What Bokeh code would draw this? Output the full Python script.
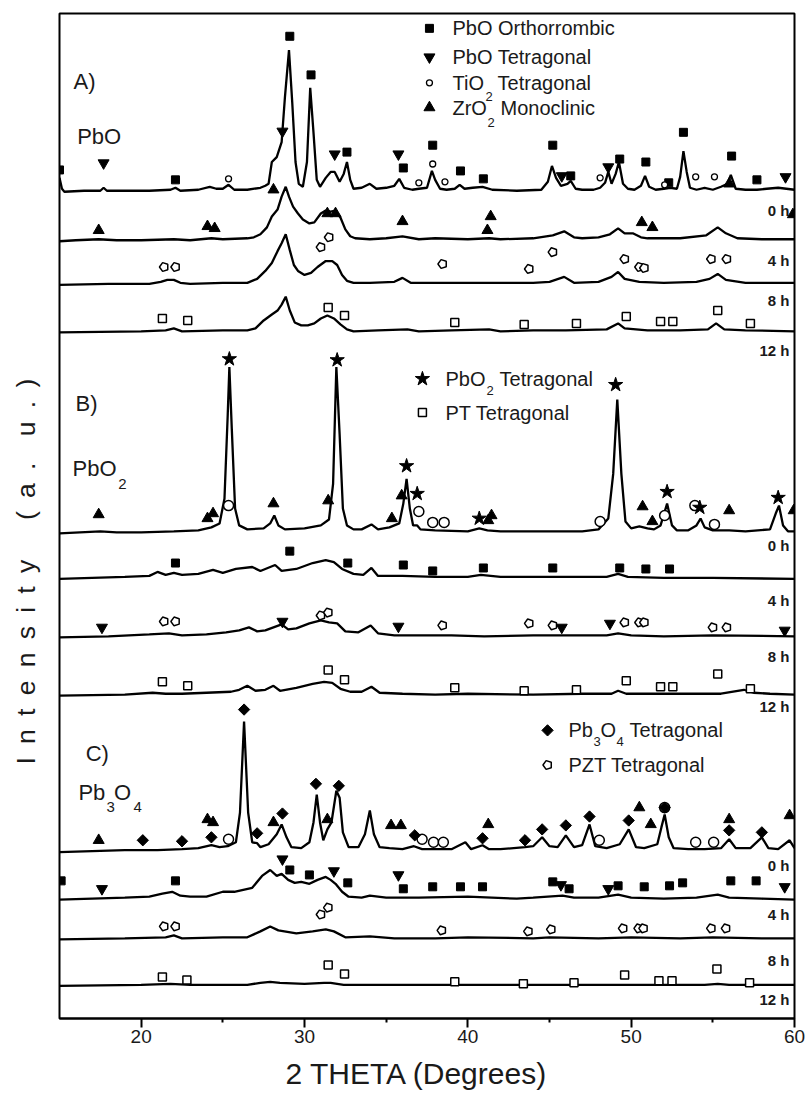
import math
from bokeh.plotting import figure
from bokeh.models import Range1d, FixedTicker, Title
from bokeh.core.properties import value
from bokeh.embed import file_html
from bokeh.resources import INLINE

FONT = "Liberation Sans"

# ---------------- data: (2theta, intensity a.u. above each pattern's baseline) ----------------
a0 = [(15.0,14),(15.15,3),(15.3,0),(16.5,1),(17.5,1),(17.7,4),(17.9,1),(19.0,1),(20.5,1),(21.8,2),(22.1,4),(22.4,1),
      (23.5,2),(24.2,5),(24.6,3),(25.0,3),(25.35,7),(25.7,2),(26.5,2),(27.3,4),(27.6,6),(27.8,8),(28.0,30),(28.3,35),
      (28.6,50),(28.8,95),(29.05,143),(29.25,90),(29.45,30),(29.65,8),(29.9,5),(30.15,30),(30.35,105),(30.55,60),
      (30.75,12),(30.95,5),(31.3,14),(31.6,20),(31.85,20),(32.15,10),(32.4,18),(32.6,30),(32.8,12),(33.0,3),(33.5,4),
      (34.0,8),(34.4,3),(35.0,4),(35.5,6),(35.8,13),(36.1,4),(36.6,2),(37.0,3),(37.5,4),(37.8,21),(38.0,12),(38.3,3),
      (38.7,2),(39.2,3),(39.5,7),(39.8,3),(40.3,4),(40.9,5),(41.5,2),(43.0,1),(44.5,2),(44.9,10),(45.15,26),(45.4,14),
      (45.7,6),(46.1,8),(46.3,11),(46.6,3),(47.0,2),(47.7,2),(48.1,4),(48.4,9),(48.6,20),(48.8,8),(49.05,18),(49.25,30),
      (49.5,8),(49.8,3),(50.2,2),(50.6,6),(50.85,16),(51.1,5),(51.5,2),(52.0,3),(52.4,4),(52.8,3),(53.0,15),(53.2,41),
      (53.4,20),(53.6,4),(54.0,2),(54.5,4),(55.0,2),(55.5,5),(55.9,8),(56.1,17),(56.4,3),(57.0,2),(57.7,2),(58.3,3),
      (59.0,4),(60.0,2)]
a4 = [(15,0),(16,1),(17.4,2),(18.5,1),(20,1),(22,2),(23,1),(24.3,3),(25,2),(26.5,3),(26.9,4),(27.3,7),(27.7,14),
      (28.0,25),(28.35,32),(28.6,45),(28.85,55),(29.05,45),(29.3,35),(29.6,28),(29.9,22),(30.3,18),(30.6,19),(31.0,28),
      (31.3,31),(31.6,30),(31.9,31),(32.2,24),(32.5,12),(32.8,5),(33.1,3),(34,2),(35,3),(36,5),(37,2),(38,3),(40,2),
      (41.3,3),(42,2),(44,3),(45.2,6),(45.9,10),(46.5,4),(47,3),(48,4),(48.7,7),(49.2,13),(49.6,8),(50.1,8),(50.6,4),
      (51,3),(53,3),(54.6,6),(55.3,14),(55.8,8),(56.5,3),(58,2),(60,2)]
a8 = [(15,0),(18,1),(20.5,1),(21.2,3),(21.6,5),(22.0,5),(22.4,2),(23,1),(25,2),(26.5,2),(27.1,6),(27.6,14),(28.0,22),
      (28.35,34),(28.6,42),(28.85,51),(29.1,35),(29.35,20),(29.6,14),(30.0,10),(30.4,12),(30.8,18),(31.3,24),(31.7,24),
      (32.0,20),(32.3,10),(32.6,4),(33.0,2),(34,2),(35.5,3),(36.0,7),(36.5,2),(38,2),(40,2),(42,2),(44,2),(45,3),
      (45.9,8),(46.5,2),(48,3),(48.8,8),(49.2,13),(49.6,6),(50.5,3),(52,2),(54,3),(54.8,6),(55.3,11),(55.8,5),(57,2),(60,2)]
a12 = [(15,0),(20,1),(21.5,2),(22.0,4),(22.5,1),(25,2),(26.5,2),(27.0,4),(27.5,12),(28.0,18),(28.35,22),(28.6,28),
       (28.85,36),(29.1,22),(29.4,10),(29.8,7),(30.2,7),(30.6,9),(31.0,14),(31.4,17),(31.8,14),(32.2,8),(32.6,3),(33,1),
       (34.5,2),(36.3,3),(37,1),(39,2),(41.3,3),(42,1),(44,2),(46,2),(48.5,3),(49.2,9),(49.6,4),(51,2),(53,2),(54.7,3),
       (55.2,9),(55.7,3),(57,2),(60,1)]
b0 = [(15,0),(17.5,2),(18.5,1),(20,1),(22,2),(23.5,3),(24.3,6),(24.8,10),(25.1,35),(25.3,120),(25.4,168),(25.55,105),
      (25.75,25),(26.0,8),(26.5,4),(27.5,5),(27.9,10),(28.15,18),(28.4,8),(28.8,4),(30,5),(31.0,8),(31.5,14),(31.75,50),
      (31.95,168),(32.15,100),(32.35,25),(32.6,8),(33,4),(33.5,4),(34.1,9),(34.5,4),(35.2,6),(35.8,10),(36.05,30),
      (36.25,55),(36.45,25),(36.65,8),(36.9,8),(37.1,4),(38,3),(40,2),(40.7,5),(41.2,3),(42,2),(45,2),(47,2),(48.0,4),
      (48.6,15),(48.9,60),(49.15,135),(49.4,60),(49.65,12),(50.0,5),(50.5,7),(51.0,5),(51.4,4),(51.8,8),(52.2,30),
      (52.5,8),(52.8,3),(53.5,3),(54.0,8),(54.25,15),(54.5,6),(55,3),(56,3),(57,2),(58.5,4),(58.85,20),(59.05,28),
      (59.3,8),(59.6,2),(60,2)]
b4 = [(15,0),(17,1),(19,2),(20.5,3),(21.0,7),(21.5,4),(22.0,6),(22.5,4),(23.5,5),(24.4,9),(25,6),(25.8,10),(26.8,12),
      (27.3,8),(28.2,14),(28.6,8),(29.5,10),(30.5,16),(31.3,19),(31.8,17),(32.3,10),(33.0,5),(33.6,4),(34.1,11),(34.5,3),
      (36,3),(38,2),(40,2),(40.8,4),(42,2),(45,2),(48.5,2),(49.2,5),(49.8,2),(52,1),(55,1),(60,0)]
b8 = [(15,0),(18,1),(20.5,3),(21.7,4),(22.5,2),(24,3),(25.2,5),(26.0,7),(26.6,10),(27.1,6),(27.6,7),(28.1,10),(28.6,13),
      (29.0,8),(29.5,9),(30.3,14),(31.0,17),(31.5,15),(32.0,14),(32.5,6),(33.3,5),(34.05,12),(34.5,4),(35.5,2),(37,2),
      (39,2),(41,1),(44,2),(46,2),(48.5,2),(49.2,4),(50,2),(52,1),(55,2),(60,1)]
b12 = [(15,0),(19,1),(20.7,3),(21.5,2),(22.5,2),(24,3),(25.5,4),(26.0,6),(26.5,10),(27.0,5),(27.6,6),(28.1,10),(28.5,5),
       (29.5,8),(30.5,12),(31.2,14),(31.7,13),(32.2,7),(32.8,4),(33.5,4),(34.1,9),(34.6,3),(36,2),(38,1),(40,2),(44,1),
       (47,2),(48.8,2),(49.2,5),(49.7,2),(52,2),(54,2),(55.5,2),(56.9,6),(57.5,3),(58.5,2),(60,1)]
c0 = [(15,0),(17,1),(19,2),(21,2),(22.5,3),(23.5,4),(24.3,7),(24.8,5),(25.3,6),(25.8,10),(26.05,40),(26.3,132),
      (26.55,40),(26.8,10),(27.1,9),(27.3,5),(27.8,8),(28.3,18),(28.6,28),(28.9,15),(29.2,5),(29.8,4),(30.3,10),
      (30.55,30),(30.75,58),(30.95,30),(31.15,12),(31.4,23),(31.65,30),(31.95,62),(32.15,55),(32.35,20),(32.7,5),
      (33.3,5),(33.7,18),(34.0,42),(34.25,18),(34.6,5),(35.2,4),(36,3),(36.7,6),(37.2,3),(38,3),(39,3),(39.85,10),
      (40.2,3),(40.9,7),(41.3,3),(42,3),(43.5,5),(44.0,6),(44.55,15),(45.0,6),(45.5,5),(46.0,17),(46.5,5),(47.0,7),
      (47.45,28),(47.8,6),(48.5,4),(49.3,8),(49.85,23),(50.3,5),(50.8,4),(51.6,8),(51.85,25),(52.05,38),(52.3,15),
      (52.6,4),(53.5,3),(54.5,3),(55.5,4),(56.0,13),(56.4,4),(57.3,4),(58.0,15),(58.4,4),(59,3),(59.7,12),(60,4)]
c4 = [(15,0),(17,1),(19,2),(20.5,3),(21.3,6),(21.9,8),(22.4,4),(23,3),(24,3),(25.0,8),(25.7,8),(26.25,10),(26.8,12),
      (27.4,24),(27.9,30),(28.3,24),(28.6,26),(29.0,20),(29.4,17),(29.8,18),(30.3,16),(30.8,20),(31.3,23),(31.6,20),
      (31.9,16),(32.3,8),(32.7,3),(33.5,2),(34.0,4),(35,2),(37,2),(40,3),(43,1),(44,2),(45.8,4),(46.5,2),(48,2),
      (49.2,5),(50.0,2),(52,1),(54,2),(55.3,5),(56,2),(58,1),(60,0)]
c8 = [(15,0),(19,1),(21.5,2),(22.0,4),(22.5,1),(25,2),(26.5,2),(27.3,8),(27.9,13),(28.4,9),(29.5,6),(30.5,8),(31.3,10),
      (31.8,8),(32.5,2),(34.0,3),(35.5,1),(38,1),(40,2),(44,1),(45,2),(48,1),(50,2),(53,1),(55,2),(58,1),(60,1)]
c12 = [(15,0),(20,1),(21.8,2),(23,1),(26.5,1),(27.3,3),(27.9,4),(28.5,3),(30,2),(31.2,3),(31.6,3),(32.4,1),(34,1),
       (40,1),(45,1),(50,1),(54.5,1),(55.3,2),(56,1),(60,1)]

patterns = [a0, a4, a8, a12, b0, b4, b8, b12, c0, c4, c8, c12]
offsets = [835, 785, 741, 693, 490, 444, 385, 326, 168, 120, 80, 33]
time_labels = ["0 h", "4 h", "8 h", "12 h"] * 3
time_label_y = [816, 766, 725, 675, 478, 422, 366, 315, 155, 105, 59, 19]

# phase markers: (2theta, intensity a.u.)
pbo_orth = [(15.0,857),(22.1,847),(29.1,992),(30.4,953),(32.6,875),(36.05,859),(37.85,882),(39.55,856),(40.95,848),
            (45.2,882),(46.3,851),(49.3,868),(50.9,865),(52.3,844),(53.2,895),(56.15,871),(57.7,847),
            (22.1,460),(29.1,472),(32.65,460),(36.05,458),(37.85,452),(40.95,455),(45.2,455),(49.3,455),(50.9,454),
            (52.35,454),
            (15.1,139),(22.1,139),(29.1,150),(30.3,145),(32.65,137),(36.05,131),(37.85,133),(39.55,133),(40.9,133),
            (45.2,138),(46.2,131),(49.2,134),(50.8,133),(52.35,134),(53.15,137),(56.1,139),(57.65,139)]
pbo_tet = [(17.7,864),(28.65,896),(31.85,873),(35.75,873),(45.75,851),(48.6,860),(59.45,850),
           (17.6,395),(28.65,401),(35.75,396),(45.75,395),(48.7,399),(59.4,392),
           (17.6,131),(28.65,161),(31.8,149),(35.75,145),(45.7,135),(48.6,131),(59.4,133)]
tio2_small = [(25.35,848),(37.0,844),(37.85,863),(38.6,845),(48.1,849),(52.05,842),(53.95,850),(55.1,850)]
tio2_large = [(25.35,518),(37.0,512),(37.85,501),(38.55,501),(48.1,502),(52.05,508),(55.1,499),(53.9,518),
              (25.35,181),(37.2,181),(37.9,178),(38.5,178),(48.05,180),(53.95,178),(55.05,178),(52.05,213)]
zro2 = [(28.1,837),(56.0,843),
        (17.4,796),(24.06,800),(24.5,798),(31.4,813),(31.9,813),(36.0,805),(41.4,810),(41.2,796),(50.65,804),
        (51.3,799),(59.9,812),
        (17.4,509),(24.06,505),(24.4,510),(28.1,520),(31.45,523),(35.35,505),(35.95,528),(41.25,503),(41.45,508),
        (50.7,517),(51.3,502),(56.0,513),(59.95,513),
        (17.4,180),(24.06,201),(24.4,198),(28.1,198),(31.4,201),(35.3,195),(35.9,195),(41.25,196),(50.5,213),
        (51.2,196),(56.0,201),(59.7,205)]
pbo2 = [(25.4,666),(32.0,665),(36.25,558),(36.9,530),(40.7,505),(49.05,640),(52.2,532),(54.2,516),(59.0,526)]
pt = [(21.3,707),(22.85,705),(31.45,718),(32.45,710),(39.2,703),(43.45,701),(46.65,702),(49.7,709),(51.8,704),
      (52.55,704),(55.3,715),(57.3,702),
      (21.3,340),(22.85,336),(31.45,352),(32.45,342),(39.2,334),(43.45,331),(46.65,332),(49.7,341),(51.8,335),
      (52.55,335),(55.3,348),(57.3,333),
      (21.3,42),(22.8,39),(31.45,54),(32.45,45),(39.2,37),(43.4,35),(46.5,36),(49.6,44),(51.7,38),(52.5,38),
      (55.25,50),(57.25,36)]
pzt = [(21.4,759),(22.1,759),(31.0,779),(31.5,789),(38.45,762),(45.2,774),(43.75,757),(49.6,767),(50.5,759),
       (50.8,758),(54.9,767),(55.85,767),
       (21.4,401),(22.1,401),(31.0,407),(31.45,410),(38.45,397),(43.75,399),(45.2,397),(49.6,400),(50.5,400),
       (50.8,400),(55.0,395),(55.85,395),
       (21.4,93),(22.1,93),(31.0,105),(31.45,112),(38.4,89),(43.7,88),(45.1,90),(49.5,91),(50.45,91),(50.75,91),
       (54.9,91),(55.8,91)]
pb3o4 = [(20.1,180),(22.5,179),(24.3,183),(26.3,312),(27.1,187),(28.65,207),(30.7,237),(32.1,235),(36.75,185),
         (40.9,182),(43.5,180),(44.55,191),(46.0,195),(47.45,204),(49.85,200),(52.05,213),(56.0,190),(58.0,188)]

x_ticks = [20, 30, 40, 50, 60]
x_minor = [25, 35, 45, 55]

# ---------------- figure ----------------
p = figure(width=806, height=1099, output_backend="svg", toolbar_location=None,
           x_range=Range1d(15, 60), y_range=Range1d(0, 1015),
           min_border_left=59, min_border_right=12, min_border_top=13, min_border_bottom=71)
p.grid.visible = False
p.outline_line_color = "black"
p.outline_line_width = 2
p.background_fill_color = "white"
p.border_fill_color = "white"

ax = p.xaxis[0]
ax.ticker = FixedTicker(ticks=x_ticks, minor_ticks=x_minor)
ax.axis_line_width = 2
ax.major_tick_in = 0
ax.major_tick_out = 9
ax.minor_tick_in = 0
ax.minor_tick_out = 4
ax.major_tick_line_width = 2
ax.minor_tick_line_width = 2
ax.major_label_standoff = 2
ax.major_label_text_font = FONT
ax.major_label_text_font_size = "19px"
ax.major_label_text_color = "#1a1a1a"

# y axis: no ticks, only the letter-spaced title
sp = "\u2002"
ylab = sp.join("Intensity") + sp * 3 + sp.join("(a.") + sp * 2 + sp.join("u.)") + "\u2003" * 4 + "\u2009"
yax = p.yaxis[0]
yax.ticker = FixedTicker(ticks=[])
yax.major_tick_in = 0
yax.major_tick_out = 0
yax.minor_tick_in = 0
yax.minor_tick_out = 0
yax.major_label_standoff = 0
yax.major_label_text_font_size = "0px"
yax.axis_line_color = None
yax.axis_label = ylab
yax.axis_label_standoff = 19
yax.axis_label_text_font = FONT
yax.axis_label_text_font_size = "26.5px"
yax.axis_label_text_font_style = "normal"
yax.axis_label_text_color = "#1a1a1a"

p.add_layout(Title(text="2 THETA (Degrees)", align="left", text_font=FONT, text_font_size="30px",
                   text_font_style="normal", text_color="#1a1a1a", standoff=19, offset=226), "below")

# patterns
for pts, off in zip(patterns, offsets):
    p.line([t for t, _ in pts], [v + off for _, v in pts], line_color="black", line_width=2.3)


def xs(pts):
    return [t for t, _ in pts]


def ys(pts):
    return [v for _, v in pts]


def filled(pts, marker, size, angle=0.0):
    p.scatter(xs(pts), ys(pts), marker=marker, size=size, angle=angle,
              fill_color="black", line_color="black", line_width=1)


def hollow(pts, marker, size, lw=1.5):
    p.scatter(xs(pts), ys(pts), marker=marker, size=size,
              fill_color="white", line_color="black", line_width=lw)


def pentagons(pts, r=4.6):
    try:
        p.ngon(xs(pts), ys(pts), radius=r, radius_units="screen", n=5, angle=math.pi / 2,
               fill_color="white", line_color="black", line_width=1.5)
    except Exception:
        hollow(pts, "hex", 9)


filled(pbo_orth, "square", 8)
filled(pbo_tet, "inverted_triangle", 11)
hollow(tio2_small, "circle", 6, 1.3)
hollow(tio2_large, "circle", 10)
filled(zro2, "triangle", 11)
filled(pbo2, "star", 15)
hollow(pt, "square", 8)
pentagons(pzt)
filled(pb3o4, "square", 8, angle=math.pi / 4)

# legends (markers)
filled([(37.65, 1000)], "square", 8)
filled([(37.65, 971)], "inverted_triangle", 11)
hollow([(37.65, 945)], "circle", 6, 1.3)
filled([(37.65, 920)], "triangle", 11)
filled([(37.22, 646)], "star", 15)
hollow([(37.22, 612)], "square", 8)
filled([(44.88, 291)], "square", 8, angle=math.pi / 4)
pentagons([(44.88, 256)])


def txt(x, y, s, size="20px", style="normal", align="left", base="middle"):
    p.text(x=[x], y=[y], text=[s], text_font=value(FONT), text_font_size=value(size),
           text_font_style=style, text_align=align, text_baseline=base, text_color="#1a1a1a")


# legend texts
txt(39.06, 1000, "PbO Orthorrombic")
txt(39.06, 971, "PbO Tetragonal")
txt(39.06, 945, "TiO")
txt(41.08, 931, "2", "13px")
txt(41.82, 945, "Tetragonal")
txt(39.06, 920, "ZrO")
txt(41.2, 905, "2", "13px")
txt(42.0, 920, "Monoclinic")
txt(38.63, 646, "PbO")
txt(41.14, 634, "2", "13px")
txt(41.94, 646, "Tetragonal")
txt(38.63, 612, "PT Tetragonal")
txt(46.16, 291, "Pb")
txt(47.69, 280, "3", "13px")
txt(48.12, 291, "O")
txt(49.10, 280, "4", "13px")
txt(49.90, 291, "Tetragonal")
txt(46.16, 256, "PZT Tetragonal")

# panel labels
txt(15.86, 946, "A)", "22px")
txt(16.08, 891, "PbO", "22px")
txt(15.98, 621, "B)", "22px")
txt(15.8, 555, "PbO", "22px")
txt(18.6, 540, "2", "15px")
txt(16.6, 268, "C)", "22px")
txt(16.16, 228, "Pb", "22px")
txt(17.88, 214, "3", "15px")
txt(18.34, 228, "O", "22px")
txt(19.53, 214, "4", "15px")

# time labels
for lab, yy in zip(time_labels, time_label_y):
    txt(59.69, yy, lab, "15px", "bold", "right")

open("out.html", "w").write(file_html(p, INLINE))
